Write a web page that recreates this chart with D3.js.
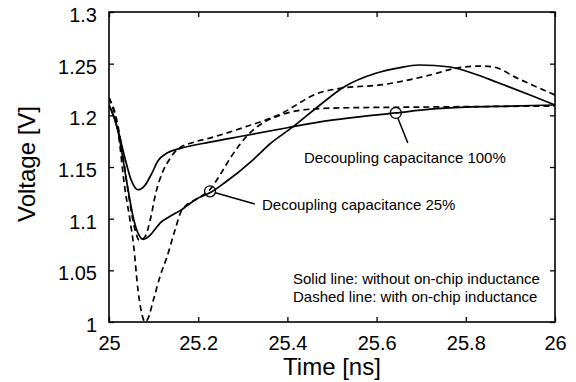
<!DOCTYPE html>
<html>
<head>
<meta charset="utf-8">
<script src="https://cdn.jsdelivr.net/npm/d3@7"></script>
<style>
  html, body { margin: 0; padding: 0; background: #fff; }
  svg { display: block; font-family: "Liberation Sans", Arial, Helvetica, sans-serif; }
</style>
</head>
<body>
<svg id="chart" width="576" height="382"></svg>
<script>
// Supply voltage transient after a switching event, for two decoupling
// capacitance levels, with and without on-chip inductance.

const xTicks = [25, 25.2, 25.4, 25.6, 25.8, 26];
const xTickLabels = ["25", "25.2", "25.4", "25.6", "25.8", "26"];
const yTicks = [1, 1.05, 1.1, 1.15, 1.2, 1.25, 1.3];
const yTickLabels = ["1", "1.05", "1.1", "1.15", "1.2", "1.25", "1.3"];

// Solid, decoupling capacitance 100% (no on-chip inductance)
const solid100T = [25.00, 25.01, 25.02, 25.035, 25.05, 25.065, 25.08, 25.095, 25.11, 25.13, 25.16, 25.226, 25.30, 25.40, 25.47, 25.55, 25.643, 25.72, 25.80, 25.90, 26.00];
const solid100V = [1.210, 1.200, 1.186, 1.160, 1.137, 1.128, 1.132, 1.143, 1.156, 1.1635, 1.168, 1.174, 1.180, 1.188, 1.1935, 1.198, 1.2023, 1.206, 1.208, 1.209, 1.210];

// Solid, decoupling capacitance 25% (no on-chip inductance)
const solid25T = [25.00, 25.02, 25.04, 25.055, 25.065, 25.077, 25.09, 25.10, 25.115, 25.14, 25.16, 25.20, 25.226, 25.26, 25.323, 25.36, 25.413, 25.473, 25.525, 25.60, 25.65, 25.695, 25.765, 25.82, 25.87, 25.944, 26.00];
const solid25V = [1.210, 1.185, 1.135, 1.100, 1.086, 1.080, 1.083, 1.088, 1.096, 1.103, 1.108, 1.120, 1.125, 1.135, 1.157, 1.172, 1.189, 1.210, 1.227, 1.241, 1.246, 1.2487, 1.2468, 1.240, 1.232, 1.2197, 1.210];

// Dashed, shallow dip then slow resonance (with on-chip inductance)
const dashedAT = [25.00, 25.015, 25.03, 25.045, 25.058, 25.068, 25.08, 25.092, 25.105, 25.12, 25.135, 25.152, 25.19, 25.226, 25.30, 25.383, 25.47, 25.525, 25.608, 25.72, 25.78, 25.832, 25.86, 25.915, 26.00];
const dashedAV = [1.217, 1.200, 1.165, 1.120, 1.090, 1.079, 1.082, 1.098, 1.125, 1.145, 1.157, 1.1665, 1.174, 1.178, 1.188, 1.201, 1.2216, 1.2265, 1.2294, 1.239, 1.2458, 1.2477, 1.247, 1.236, 1.2197];

// Dashed, deep dip to 1.0 V (with on-chip inductance)
const dashedBT = [25.00, 25.02, 25.036, 25.047, 25.055, 25.065, 25.076, 25.081, 25.087, 25.10, 25.115, 25.13, 25.148, 25.163, 25.20, 25.226, 25.25, 25.271, 25.316, 25.35, 25.383, 25.43, 25.50, 25.70, 26.00];
const dashedBV = [1.217, 1.185, 1.128, 1.099, 1.075, 1.031, 1.004, 1.000, 1.003, 1.022, 1.045, 1.063, 1.089, 1.108, 1.120, 1.128, 1.143, 1.158, 1.183, 1.194, 1.200, 1.205, 1.207, 1.208, 1.209];

// Annotated points on the solid curves and the ends of their leader lines
const markerT = [25.643, 25.2265];
const markerV = [1.2023, 1.1265];
const leaderEndT = [25.670, 25.327];
const leaderEndV = [1.1732, 1.1142];
const annotationText = ["Decoupling capacitance 100%", "Decoupling capacitance 25%"];
const noteText = ["Solid line: without on-chip inductance", "Dashed line: with on-chip inductance"];

const svg = d3.select("#chart");
const margin = { left: 109, top: 12, right: 21, bottom: 60 };
const W = 576, H = 382;
const innerW = W - margin.left - margin.right;
const innerH = H - margin.top - margin.bottom;

const x = d3.scaleLinear().domain([25, 26]).range([margin.left, margin.left + innerW]);
const y = d3.scaleLinear().domain([1, 1.3]).range([margin.top + innerH, margin.top]);

const tickFont = 20;

// Axes: ticks point into the plot on all four sides
const axisBottomG = svg.append("g")
  .attr("transform", `translate(0,${margin.top + innerH})`)
  .call(d3.axisBottom(x).tickValues(xTicks).tickSizeInner(-5).tickSizeOuter(0).tickPadding(14)
    .tickFormat((d, i) => xTickLabels[i]));
const axisTopG = svg.append("g")
  .attr("transform", `translate(0,${margin.top})`)
  .call(d3.axisTop(x).tickValues(xTicks).tickSizeInner(-5).tickSizeOuter(0).tickFormat(""));
const axisLeftG = svg.append("g")
  .attr("transform", `translate(${margin.left},0)`)
  .call(d3.axisLeft(y).tickValues(yTicks).tickSizeInner(-5).tickSizeOuter(0).tickPadding(12)
    .tickFormat((d, i) => yTickLabels[i]));
const axisRightG = svg.append("g")
  .attr("transform", `translate(${margin.left + innerW},0)`)
  .call(d3.axisRight(y).tickValues(yTicks).tickSizeInner(-5).tickSizeOuter(0).tickFormat(""));

[axisBottomG, axisTopG, axisLeftG, axisRightG].forEach(g => {
  g.select(".domain").remove();
  g.selectAll(".tick line").attr("stroke", "#000").attr("stroke-width", 1.3);
  g.selectAll(".tick text").attr("font-size", tickFont).attr("fill", "#000")
    .attr("font-family", "'Liberation Sans', Arial, sans-serif");
});
axisLeftG.selectAll(".tick text").attr("dy", "0.48em");

// Curves
const line = d3.line()
  .x(d => x(d[0]))
  .y(d => y(d[1]))
  .curve(d3.curveMonotoneX);

const zip = (ts, vs) => ts.map((t, i) => [t, vs[i]]);

const plot = svg.append("g");
plot.append("defs").append("clipPath").attr("id", "clip")
  .append("rect").attr("x", margin.left).attr("y", margin.top - 2)
  .attr("width", innerW).attr("height", innerH + 2);

const series = [
  { pts: zip(solid100T, solid100V), dash: null },
  { pts: zip(solid25T, solid25V), dash: null },
  { pts: zip(dashedAT, dashedAV), dash: "6,4" },
  { pts: zip(dashedBT, dashedBV), dash: "6,4" }
];

plot.selectAll("path.curve").data(series).join("path")
  .attr("class", "curve")
  .attr("clip-path", "url(#clip)")
  .attr("d", d => line(d.pts))
  .attr("fill", "none")
  .attr("stroke", "#000")
  .attr("stroke-width", 1.7)
  .attr("stroke-dasharray", d => d.dash);

// Frame
svg.append("rect")
  .attr("x", margin.left).attr("y", margin.top)
  .attr("width", innerW).attr("height", innerH)
  .attr("fill", "none").attr("stroke", "#000").attr("stroke-width", 1.6);

// Annotation markers with leader lines
const r = 5.5;
markerT.forEach((t, i) => {
  const cx = x(t), cy = y(markerV[i]);
  const ex = x(leaderEndT[i]), ey = y(leaderEndV[i]);
  const len = Math.hypot(ex - cx, ey - cy);
  svg.append("circle").attr("cx", cx).attr("cy", cy).attr("r", r)
    .attr("fill", "none").attr("stroke", "#000").attr("stroke-width", 1.3);
  svg.append("line")
    .attr("x1", cx + (ex - cx) / len * r).attr("y1", cy + (ey - cy) / len * r)
    .attr("x2", ex).attr("y2", ey)
    .attr("stroke", "#000").attr("stroke-width", 1.5);
});

const textFont = 15;
svg.append("text").attr("x", 304).attr("y", 163).attr("font-size", textFont).text(annotationText[0]);
svg.append("text").attr("x", 262).attr("y", 210).attr("font-size", textFont).text(annotationText[1]);
svg.append("text").attr("x", 293).attr("y", 284).attr("font-size", textFont).text(noteText[0]);
svg.append("text").attr("x", 293).attr("y", 302).attr("font-size", textFont).text(noteText[1]);

// Axis titles
svg.append("text")
  .attr("x", margin.left + innerW / 2).attr("y", 375)
  .attr("text-anchor", "middle").attr("font-size", 24)
  .text("Time [ns]");
svg.append("text")
  .attr("transform", `translate(35,${margin.top + innerH / 2 - 3}) rotate(-90)`)
  .attr("text-anchor", "middle").attr("font-size", 24)
  .text("Voltage [V]");
</script>
</body>
</html>
